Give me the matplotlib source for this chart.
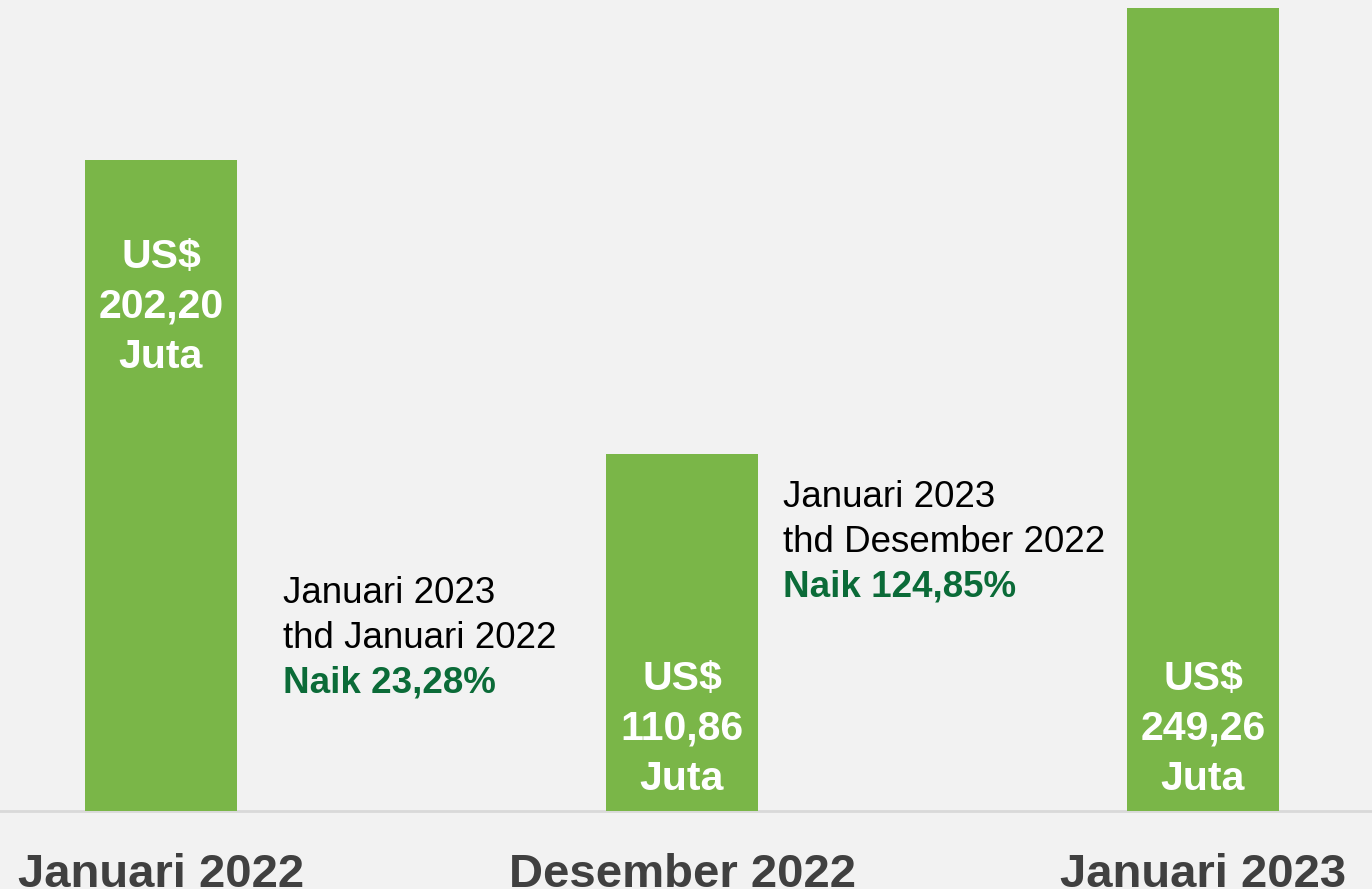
import matplotlib
matplotlib.use("Agg")
import matplotlib.pyplot as plt
from matplotlib.transforms import blended_transform_factory

# ---- data ----
categories = ["Januari 2022", "Desember 2022", "Januari 2023"]
values = [202.20, 110.86, 249.26]
value_labels = ["202,20", "110,86", "249,26"]
unit_prefix = "US$"
unit_suffix = "Juta"
comparisons = [
    ["Januari 2023", "thd Januari 2022", "Naik 23,28%"],
    ["Januari 2023", "thd Desember 2022", "Naik 124,85%"],
]

# ---- style / layout ----
W, H = 1372, 889
BG = "#f2f2f2"
GREEN = "#7ab648"
DARKGREEN = "#0b6b38"
CAT_COLOR = "#404040"
FONT = "Liberation Sans"

label_top_baseline_px = [268, 690, 690]   # baseline of first line of bar labels
label_step_px = 50
comp_left_px = [283, 783]
comp_top_baseline_px = [603, 507]
comp_step_px = 45

fig = plt.figure(figsize=(W / 100, H / 100), dpi=100, facecolor=BG)
ax = fig.add_axes([0, 1 - 811 / H, 1, (811 - 8) / H])
ax.set_facecolor(BG)

x = list(range(len(categories)))
ax.bar(x, values, width=0.292, color=GREEN, zorder=2)
ax.set_xlim(-161 / 521, (W - 161) / 521)
ax.set_ylim(0, max(values))
ax.axhline(0, color="#d9d9d9", lw=2, zorder=1, clip_on=False)
for s in ax.spines.values():
    s.set_visible(False)
ax.set_xticks([])
ax.set_yticks([])

def fy(py):
    return 1 - py / H

tr = blended_transform_factory(ax.transData, fig.transFigure)

# bar value labels
for i, (lab, base) in enumerate(zip(value_labels, label_top_baseline_px)):
    for k, line in enumerate([unit_prefix, lab, unit_suffix]):
        ax.text(i, fy(base + k * label_step_px), line, transform=tr,
                ha="center", va="baseline", color="white",
                fontsize=29.5, fontweight="bold", family=FONT, zorder=3)

# category labels
for i, cat in enumerate(categories):
    ax.text(i, fy(887), cat, transform=tr, ha="center", va="baseline",
            color=CAT_COLOR, fontsize=34, fontweight="bold", family=FONT,
            clip_on=False)

# comparison annotations
for lines, lx, base in zip(comparisons, comp_left_px, comp_top_baseline_px):
    for k, line in enumerate(lines):
        bold = k == 2
        fig.text(lx / W, fy(base + k * comp_step_px), line,
                 ha="left", va="baseline",
                 color=DARKGREEN if bold else "black",
                 fontsize=26.5, fontweight="bold" if bold else "normal",
                 family=FONT)

fig.savefig("out.png", dpi=100, facecolor=BG)
